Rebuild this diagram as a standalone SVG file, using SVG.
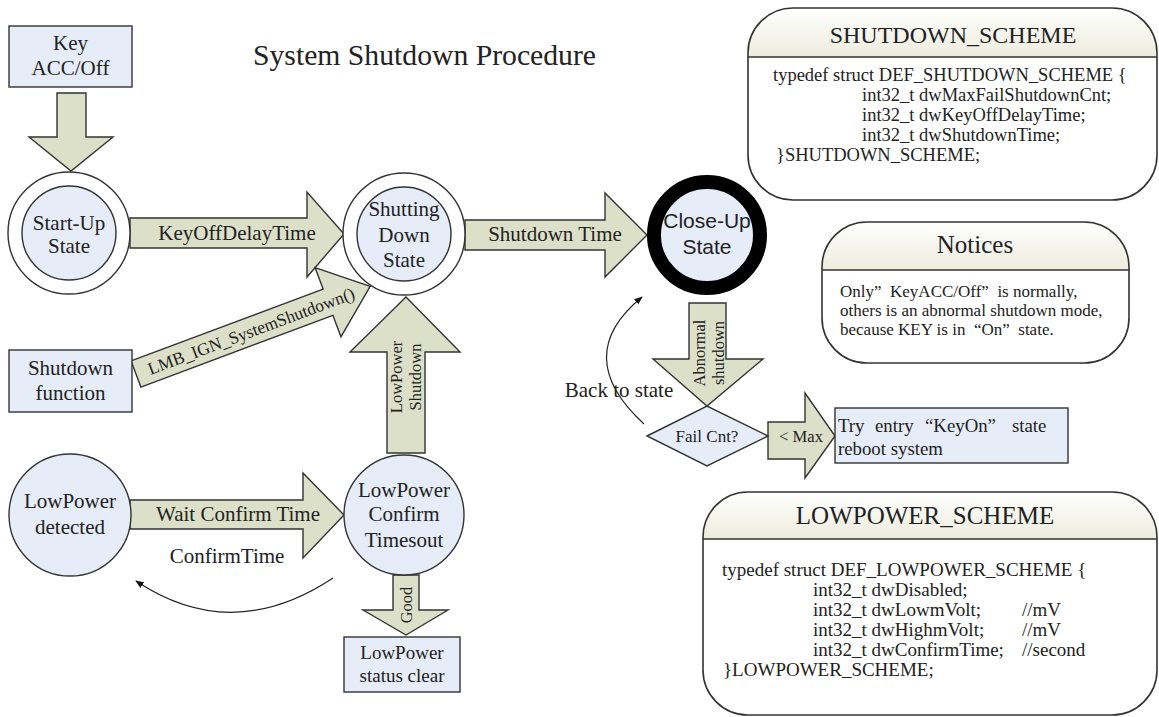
<svg xmlns="http://www.w3.org/2000/svg" width="1159" height="717" viewBox="0 0 1159 717">
<style>
  text { font-family: "Liberation Serif", "Times New Roman", serif; fill: #222; }
  .lbl { font-size: 21px; text-anchor: middle; }
  .sans { font-family: "Liberation Sans", Arial, sans-serif; }
  .node { fill: #E6ECF8; stroke: #333; stroke-width: 1.4; }
  .ring { fill: #FFFFFF; stroke: #333; stroke-width: 1.4; }
  .arr { fill: #DDE0C8; stroke: #333; stroke-width: 1.4; stroke-linejoin: miter; }
  .vt { font-size: 16.5px; text-anchor: middle; }
  .code { font-size: 18.5px; }
  .note { font-size: 17px; }
  .hdr { fill: url(#hg); }
  .frame { fill: none; stroke: #333; stroke-width: 1.6; }
  .thin { fill: none; stroke: #222; stroke-width: 1.2; }
</style>
<defs>
  <linearGradient id="hg" x1="0" y1="0" x2="0" y2="1">
    <stop offset="0" stop-color="#FFFFFF"/>
    <stop offset="1" stop-color="#ECECDD"/>
  </linearGradient>
  <marker id="ah" viewBox="0 0 10 10" refX="9" refY="5" markerWidth="7" markerHeight="7" orient="auto">
    <path d="M0,1 L10,5 L0,9 Z" fill="#111"/>
  </marker>
</defs>
<rect width="1159" height="717" fill="#FFFFFF"/>

<text x="253" y="65" style="font-size:29.7px">System Shutdown Procedure</text>

<g id="connectors">
  <!-- Key down arrow -->
  <path class="arr" d="M57,93 H86 V137 H113 L71,171 L29,137 H57 Z"/>
  <!-- KeyOffDelayTime -->
  <path class="arr" d="M130,218 H307 V192 L344,234 L307,277 V248 H130 Z"/>
  <text class="lbl" x="237" y="240">KeyOffDelayTime</text>
  <!-- Shutdown Time -->
  <path class="arr" d="M465,220 H605 V193 L647,235 L605,277 V250 H465 Z"/>
  <text class="lbl" x="555" y="241">Shutdown Time</text>
  <!-- LMB_IGN -->
  <g transform="translate(136,374) rotate(-20.5)">
    <path class="arr" d="M0,-14 H205 V-37 L250,0 L205,37 V14 H0 Z"/>
    <text x="123" y="6" style="font-size:17.4px;text-anchor:middle">LMB_IGN_SystemShutdown()</text>
  </g>
  <!-- LowPower Shutdown up -->
  <path class="arr" d="M387,453 V352 H350 L406,297 L460,352 H425 V453 Z"/>
  <g transform="translate(406,377) rotate(-90)">
    <text class="vt" x="0" y="-4">LowPower</text>
    <text class="vt" x="0" y="15">Shutdown</text>
  </g>
  <!-- Wait Confirm Time -->
  <path class="arr" d="M130,500 H303 V473 L344,515 L303,558 V529 H130 Z"/>
  <text class="lbl" x="238" y="521">Wait Confirm Time</text>
  <text class="lbl" x="227" y="563">ConfirmTime</text>
  <path class="thin" d="M333,578 Q232,645 136,581" marker-end="url(#ah)"/>
  <!-- Good -->
  <path class="arr" d="M393,575 H419 V610 H448 L406,635 L363,610 H393 Z"/>
  <g transform="translate(406,605) rotate(-90)">
    <text class="vt" x="0" y="6">Good</text>
  </g>
  <!-- Abnormal shutdown -->
  <path class="arr" d="M689,303 H726 V359 H763 L707,406 L653,359 H689 Z"/>
  <g transform="translate(708.5,353) rotate(-90)">
    <text class="vt" x="0" y="-4">Abnormal</text>
    <text class="vt" x="0" y="15">shutdown</text>
  </g>
  <!-- Back to state -->
  <path class="thin" d="M644,424 Q570,356 642,297" marker-end="url(#ah)"/>
  <text class="lbl" x="619" y="397">Back to state</text>
  <!-- < Max -->
  <path class="arr" d="M768,422 H805 V393 L835,436 L805,478 V459 H768 Z"/>
  <text x="801" y="442" style="font-size:16.6px;text-anchor:middle">&lt; Max</text>
</g>

<g id="key">
  <rect class="node" x="9" y="26" width="123" height="61"/>
  <text class="lbl" x="70.5" y="50">Key</text>
  <text class="lbl" x="70.5" y="75">ACC/Off</text>
</g>

<g id="startup">
  <circle class="ring" cx="69" cy="233" r="61"/>
  <circle class="node" cx="69" cy="233" r="47"/>
  <text class="lbl" x="69" y="230">Start-Up</text>
  <text class="lbl" x="69" y="253">State</text>
</g>

<g id="shutting">
  <circle class="ring" cx="404" cy="234" r="61"/>
  <circle class="node" cx="404" cy="234" r="47"/>
  <text class="lbl" x="404" y="216">Shutting</text>
  <text class="lbl" x="404" y="242">Down</text>
  <text class="lbl" x="404" y="267">State</text>
</g>

<g id="closeup">
  <circle cx="707" cy="235" r="53" fill="#E6ECF8" stroke="#000" stroke-width="14"/>
  <text class="lbl sans" x="707" y="228">Close-Up</text>
  <text class="lbl sans" x="707" y="254">State</text>
</g>

<g id="shutdownfn">
  <rect class="node" x="9" y="350" width="123" height="62"/>
  <text class="lbl" x="70.5" y="375">Shutdown</text>
  <text class="lbl" x="70.5" y="400">function</text>
</g>

<g id="lpdetected">
  <circle class="node" cx="70" cy="515" r="61"/>
  <text class="lbl" x="70" y="508">LowPower</text>
  <text class="lbl" x="70" y="534">detected</text>
</g>

<g id="lpconfirm">
  <circle class="node" cx="404" cy="515" r="60"/>
  <text class="lbl" x="404" y="497">LowPower</text>
  <text class="lbl" x="404" y="521">Confirm</text>
  <text class="lbl" x="404" y="547">Timesout</text>
</g>

<g id="lpclear">
  <rect class="node" x="344" y="637" width="116" height="55"/>
  <text x="402" y="659" style="font-size:19px;text-anchor:middle">LowPower</text>
  <text x="402" y="682" style="font-size:19px;text-anchor:middle">status clear</text>
</g>

<g id="failcnt">
  <path class="node" d="M647,436 L707,406 L768,436 L707,466 Z"/>
  <text x="707" y="442" style="font-size:17px;text-anchor:middle">Fail Cnt?</text>
</g>

<g id="tryentry">
  <rect class="node" x="835" y="408" width="233" height="55"/>
  <text x="838" y="432" style="font-size:18.8px">Try</text>
  <text x="875" y="432" style="font-size:18.8px">entry</text>
  <text x="925" y="432" style="font-size:18.8px">“KeyOn”</text>
  <text x="1012" y="432" style="font-size:18.8px">state</text>
  <text x="838" y="455" style="font-size:18.8px">reboot system</text>
</g>

<g id="shutdownscheme">
  <rect x="748" y="8" width="409" height="192" rx="45" ry="45" fill="#FFFFFF"/>
  <path class="hdr" d="M748,57 V53 A45,45 0 0 1 793,8 H1112 A45,45 0 0 1 1157,53 V57 Z"/>
  <rect class="frame" x="748" y="8" width="409" height="192" rx="45" ry="45"/>
  <line x1="748" y1="57" x2="1157" y2="57" stroke="#333" stroke-width="1.6"/>
  <text x="953" y="43" style="font-size:24px;text-anchor:middle">SHUTDOWN_SCHEME</text>
  <text class="code" x="773" y="81">typedef struct DEF_SHUTDOWN_SCHEME {</text>
  <text class="code" x="862" y="101">int32_t dwMaxFailShutdownCnt;</text>
  <text class="code" x="862" y="121">int32_t dwKeyOffDelayTime;</text>
  <text class="code" x="862" y="141">int32_t dwShutdownTime;</text>
  <text class="code" x="776" y="161">}SHUTDOWN_SCHEME;</text>
</g>

<g id="notices">
  <rect x="822" y="222" width="307" height="141" rx="45" ry="45" fill="#FFFFFF"/>
  <path class="hdr" d="M822,270 V267 A45,45 0 0 1 867,222 H1084 A45,45 0 0 1 1129,267 V270 Z"/>
  <rect class="frame" x="822" y="222" width="307" height="141" rx="45" ry="45"/>
  <line x1="822" y1="270" x2="1129" y2="270" stroke="#333" stroke-width="1.6"/>
  <text x="975" y="253" style="font-size:25px;text-anchor:middle">Notices</text>
  <text class="note" x="840" y="297">Only”&#160; KeyACC/Off”&#160; is normally,</text>
  <text class="note" x="840" y="316">others is an abnormal shutdown mode,</text>
  <text class="note" x="840" y="335">because KEY is in &#160;“On”&#160; state.</text>
</g>

<g id="lowpowerscheme">
  <rect x="703" y="492" width="454" height="223" rx="45" ry="45" fill="#FFFFFF"/>
  <path class="hdr" d="M703,539 V537 A45,45 0 0 1 748,492 H1112 A45,45 0 0 1 1157,537 V539 Z"/>
  <rect class="frame" x="703" y="492" width="454" height="223" rx="45" ry="45"/>
  <line x1="703" y1="539" x2="1157" y2="539" stroke="#333" stroke-width="1.6"/>
  <text x="925" y="524" style="font-size:25px;text-anchor:middle">LOWPOWER_SCHEME</text>
  <text class="code" x="722" y="576" style="font-size:19px">typedef struct DEF_LOWPOWER_SCHEME {</text>
  <text class="code" x="813" y="596" style="font-size:19px">int32_t dwDisabled;</text>
  <text class="code" x="813" y="616" style="font-size:19px">int32_t dwLowmVolt;</text>
  <text class="code" x="1022" y="616" style="font-size:19px">//mV</text>
  <text class="code" x="813" y="636" style="font-size:19px">int32_t dwHighmVolt;</text>
  <text class="code" x="1022" y="636" style="font-size:19px">//mV</text>
  <text class="code" x="813" y="656" style="font-size:19px">int32_t dwConfirmTime;</text>
  <text class="code" x="1022" y="656" style="font-size:19px">//second</text>
  <text class="code" x="723" y="676" style="font-size:19px">}LOWPOWER_SCHEME;</text>
</g>
</svg>
